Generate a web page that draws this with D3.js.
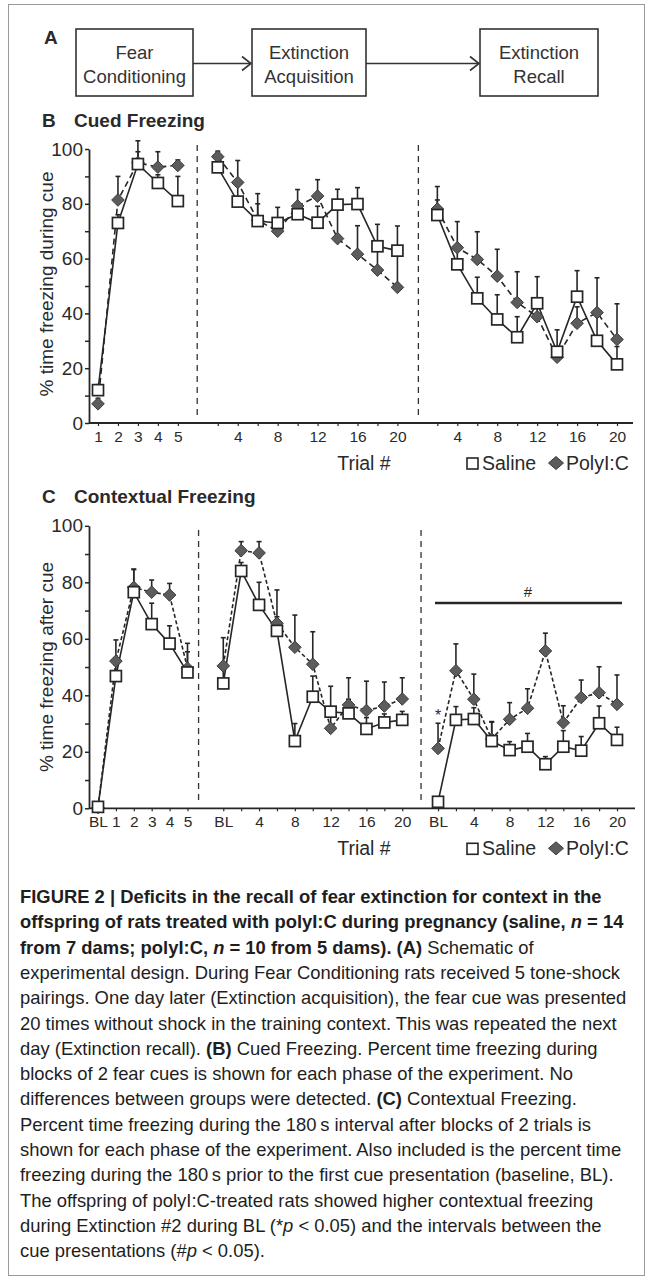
<!DOCTYPE html>
<html><head><meta charset="utf-8">
<script src="https://cdn.jsdelivr.net/npm/d3@7"></script>
<style>
body{margin:0;background:#fff}
svg{display:block}
text{font-family:"Liberation Sans",Arial,Helvetica,sans-serif;fill:#2a2a2a}
</style>
</head><body><div id="chart"></div>
<script>
// ---------------- DATA ----------------
const schemeSteps = ["Fear|Conditioning", "Extinction|Acquisition", "Extinction|Recall"];

// Panel B – Cued freezing (% time freezing during cue)
const bTrials1 = ["1","2","3","4","5"];
const bTrials2 = ["2","4","6","8","10","12","14","16","18","20"];
const bTrials3 = ["2","4","6","8","10","12","14","16","18","20"];
const bLabeled1 = ["1","2","3","4","5"];
const bLabeled23 = ["4","8","12","16","20"];
const bSaline1 = [12, 73, 94.5, 87.6, 81];
const bSaline1Err = [2, 3, 8.5, 3, 9];
const bPoly1 = [7, 81.4, 95, 93.4, 94];
const bPoly1Err = [2, 8.6, 4, 5.6, 2];
const bSaline2 = [93.3, 80.8, 73.7, 73, 76.2, 73.1, 79.7, 79.9, 64.5, 62.9];
const bSaline2Err = [3, 7, 10, 5.7, 3, 6, 5.6, 6, 8, 9];
const bPoly2 = [97.2, 87.8, 74, 70, 79.2, 82.8, 67.3, 61.6, 55.8, 49.5];
const bPoly2Err = [2, 8, 6, 3, 6, 6, 12, 10.4, 8, 13];
const bSaline3 = [75.9, 57.9, 45.5, 37.8, 31.3, 43.7, 26, 46.1, 30, 21.4];
const bSaline3Err = [5.5, 6, 7.7, 9, 7.5, 9.7, 8, 9.5, 10, 6.5];
const bPoly3 = [78.1, 64, 59.7, 53.6, 44, 38.8, 24, 36.4, 40.3, 30.5];
const bPoly3Err = [8.2, 9.5, 10.1, 9.8, 11.2, 5, 2, 6, 12.7, 13];

// Panel C – Contextual freezing (% time freezing after cue)
const cTrials1 = ["BL","1","2","3","4","5"];
const cTrials2 = ["BL","2","4","6","8","10","12","14","16","18","20"];
const cTrials3 = ["BL","2","4","6","8","10","12","14","16","18","20"];
const cLabeled1 = ["BL","1","2","3","4","5"];
const cLabeled23 = ["BL","4","8","12","16","20"];
const cSaline1 = [0.5, 46.8, 76.5, 65.2, 58.3, 48.1];
const cSaline1Err = [0.5, 4, 8, 7.4, 6.3, 7.3];
const cPoly1 = [0.3, 52.1, 78.2, 76.5, 75.5, 49.6];
const cPoly1Err = [0.3, 7.5, 6.5, 4.3, 4.1, 8.8];
const cSaline2 = [44.2, 84, 72, 62.8, 23.8, 39.5, 34.2, 33.6, 28.1, 30.4, 31.3];
const cSaline2Err = [5, 3, 8, 5, 6.2, 7.3, 9, 5, 4, 3, 3];
const cPoly2 = [50.4, 91.2, 90.4, 65.5, 57, 51, 28.3, 36.6, 34.6, 36.2, 38.7];
const cPoly2Err = [10, 3.2, 4, 11.8, 11.4, 11.5, 5, 9.6, 10.4, 8.5, 7.5];
const cSaline3 = [2.3, 31.3, 31.6, 23.8, 20.6, 21.8, 15.6, 21.8, 20.4, 30.1, 24.2];
const cSaline3Err = [0.5, 4.7, 4, 6.9, 3, 4.7, 2.7, 5.7, 5, 6.1, 4.5];
const cPoly3 = [21.2, 48.7, 38.6, 24.5, 31.5, 35.4, 55.7, 30.3, 39.2, 40.9, 36.8];
const cPoly3Err = [8.9, 9.5, 8.9, 6, 5.9, 6.9, 6.3, 6, 6.2, 9.2, 10.4];

const yTicks = [0,10,20,30,40,50,60,70,80,90,100];
const yLabeledTicks = [0,20,40,60,80,100];
const legendNames = ["Saline", "PolyI:C"];

const captionLines = [
  [["b","FIGURE 2 | Deficits in the recall of fear extinction for context in the"]],
  [["b","offspring of rats treated with polyI:C during pregnancy (saline, "],["bi","n"],["b"," = 14"]],
  [["b","from 7 dams; polyI:C, "],["bi","n"],["b"," = 10 from 5 dams). (A)"],["n"," Schematic of"]],
  [["n","experimental design. During Fear Conditioning rats received 5 tone-shock"]],
  [["n","pairings. One day later (Extinction acquisition), the fear cue was presented"]],
  [["n","20 times without shock in the training context. This was repeated the next"]],
  [["n","day (Extinction recall). "],["b","(B)"],["n"," Cued Freezing. Percent time freezing during"]],
  [["n","blocks of 2 fear cues is shown for each phase of the experiment. No"]],
  [["n","differences between groups were detected. "],["b","(C)"],["n"," Contextual Freezing."]],
  [["n","Percent time freezing during the 180\u2009s interval after blocks of 2 trials is"]],
  [["n","shown for each phase of the experiment. Also included is the percent time"]],
  [["n","freezing during the 180\u2009s prior to the first cue presentation (baseline, BL)."]],
  [["n","The offspring of polyI:C-treated rats showed higher contextual freezing"]],
  [["n","during Extinction #2 during BL (*"],["i","p"],["n"," < 0.05) and the intervals between the"]],
  [["n","cue presentations (#"],["i","p"],["n"," < 0.05)."]]
];

// ---------------- DRAW ----------------
const W = 652, H = 1283;
const svg = d3.select("#chart").append("svg").attr("width", W).attr("height", H);
svg.append("rect").attr("width", W).attr("height", H).attr("fill", "#fff");
svg.append("rect").attr("x", 8.5).attr("y", 4.5).attr("width", 636).attr("height", 1271)
  .attr("fill", "none").attr("stroke", "#9a9a9a").attr("stroke-width", 1);

const INK = "#262626";

// Panel A
svg.append("text").attr("x", 44).attr("y", 44).attr("font-size", 19).attr("font-weight", "bold").text("A");
const boxLeft = [76, 252, 480], boxWidth = [117, 114, 118], boxTop = 29, boxH = 67;
schemeSteps.forEach((s, i) => {
  svg.append("rect").attr("x", boxLeft[i]).attr("y", boxTop).attr("width", boxWidth[i]).attr("height", boxH)
    .attr("fill", "#fff").attr("stroke", "#333").attr("stroke-width", 1.6);
  const parts = s.split("|");
  parts.forEach((p, j) => {
    svg.append("text").attr("x", boxLeft[i] + boxWidth[i] / 2).attr("y", boxTop + 30 + j * 24)
      .attr("text-anchor", "middle").attr("font-size", 18.5).style("fill", "#333").text(p);
  });
  if (i < schemeSteps.length - 1) {
    const x0 = boxLeft[i] + boxWidth[i], x1 = boxLeft[i + 1] - 1, yA = boxTop + boxH / 2 + 1;
    svg.append("line").attr("x1", x0).attr("x2", x1).attr("y1", yA).attr("y2", yA).attr("stroke", "#333").attr("stroke-width", 1.6);
    svg.append("path").attr("d", `M${x1 - 9},${yA - 7}L${x1},${yA}L${x1 - 9},${yA + 7}`)
      .attr("fill", "none").attr("stroke", "#333").attr("stroke-width", 1.6);
  }
});

function diamondPath(hw, hh) { return `M0,${-hh}L${hw},0L0,${hh}L${-hw},0Z`; }

function drawPanel(cfg) {
  const g = svg.append("g");
  const x = d3.scaleLinear().domain([0, cfg.nIdx]).range([cfg.x0, cfg.x1]);
  const y = d3.scaleLinear().domain([0, 100]).range([cfg.y0, cfg.y100]);

  g.append("text").attr("x", 42).attr("y", cfg.titleY).attr("font-size", 19).attr("font-weight", "bold").text(cfg.letter);
  g.append("text").attr("x", 74).attr("y", cfg.titleY).attr("font-size", 19).attr("font-weight", "bold").text(cfg.title);

  const ya = g.append("g").attr("transform", `translate(${cfg.axisX},0)`)
    .call(d3.axisLeft(y).tickValues(yTicks).tickSize(4).tickSizeOuter(0).tickPadding(2)
      .tickFormat(d => yLabeledTicks.includes(d) ? d : ""));
  ya.select(".domain").attr("stroke", INK).attr("stroke-width", 1.8);
  ya.selectAll(".tick line").attr("stroke", INK).attr("stroke-width", 1.5);
  ya.selectAll(".tick text").attr("font-size", 19).attr("font-family", "Liberation Sans, Arial, sans-serif").style("fill", "#2a2a2a");

  const allIdx = [];
  const labelOf = {};
  cfg.phases.forEach(ph => ph.trials.forEach((t, k) => {
    const ii = ph.offset + k; allIdx.push(ii); labelOf[ii] = ph.labeled.includes(t) ? t : "";
  }));
  const xa = g.append("g").attr("transform", `translate(0,${cfg.y0})`)
    .call(d3.axisBottom(x).tickValues(allIdx).tickSize(3).tickPadding(5).tickFormat(d => labelOf[d]));
  xa.select(".domain").remove();
  xa.selectAll(".tick line").attr("stroke", INK).attr("stroke-width", 1.2);
  xa.selectAll(".tick text").attr("font-size", 15.5).attr("font-family", "Liberation Sans, Arial, sans-serif").style("fill", "#2a2a2a");
  g.append("line").attr("x1", cfg.axisX).attr("x2", cfg.axisEnd).attr("y1", cfg.y0).attr("y2", cfg.y0)
    .attr("stroke", INK).attr("stroke-width", 1.8);

  cfg.sepIdx.forEach(si => {
    g.append("line").attr("x1", x(si)).attr("x2", x(si)).attr("y1", cfg.sepTop).attr("y2", cfg.y0 - 6)
      .attr("stroke", "#333").attr("stroke-width", 1.3).attr("stroke-dasharray", "6,5");
  });

  const line = d3.line().x(d => x(d.i)).y(d => y(d.v));
  const phData = cfg.phases.map(ph => ({
    sal: ph.sal.map((v, k) => ({ i: ph.offset + k, v, e: ph.salErr[k] })),
    poly: ph.poly.map((v, k) => ({ i: ph.offset + k, v, e: ph.polyErr[k] }))
  }));
  phData.forEach(pd => {
    g.append("path").datum(pd.poly).attr("d", line).attr("fill", "none").attr("stroke", INK)
      .attr("stroke-width", 1.6).attr("stroke-dasharray", cfg.polyDash);
    g.append("path").datum(pd.sal).attr("d", line).attr("fill", "none").attr("stroke", INK).attr("stroke-width", 1.6);
  });
  phData.forEach(pd => {
    [...pd.poly, ...pd.sal].forEach(d => {
      const yt = y(d.v + d.e);
      g.append("line").attr("x1", x(d.i)).attr("x2", x(d.i)).attr("y1", y(d.v)).attr("y2", yt).attr("stroke", INK).attr("stroke-width", 1.6);
      g.append("line").attr("x1", x(d.i) - 2.5).attr("x2", x(d.i) + 2.5).attr("y1", yt).attr("y2", yt).attr("stroke", INK).attr("stroke-width", 1.6);
    });
  });
  phData.forEach(pd => {
    g.selectAll(null).data(pd.poly).join("path").attr("d", diamondPath(6.3, 6.3))
      .attr("transform", d => `translate(${x(d.i)},${y(d.v)})`).attr("fill", "#5c5c5c").attr("stroke", "#3a3a3a").attr("stroke-width", 1);
  });
  phData.forEach(pd => {
    g.selectAll(null).data(pd.sal).join("rect").attr("x", d => x(d.i) - 5.5).attr("y", d => y(d.v) - 5.5)
      .attr("width", 11).attr("height", 11).attr("fill", "#fff").attr("stroke", INK).attr("stroke-width", 1.7);
  });

  g.append("text").attr("transform", `translate(53,${cfg.yLabelY}) rotate(-90)`).attr("text-anchor", "middle")
    .attr("font-size", 19).text(cfg.yLabel);

  const ly = cfg.y0 + 46.5;
  g.append("text").attr("x", 364).attr("y", ly).attr("text-anchor", "middle").attr("font-size", 19.5).text("Trial #");
  g.append("rect").attr("x", 467).attr("y", ly - 11.5).attr("width", 11).attr("height", 11)
    .attr("fill", "#fff").attr("stroke", INK).attr("stroke-width", 1.6);
  g.append("text").attr("x", 482).attr("y", ly).attr("font-size", 19.5).text(legendNames[0]);
  g.append("path").attr("d", diamondPath(7.5, 6.5)).attr("transform", `translate(556,${ly - 6.5})`)
    .attr("fill", "#5c5c5c").attr("stroke", "#3a3a3a");
  g.append("text").attr("x", 566).attr("y", ly).attr("font-size", 19.5).text(legendNames[1]);
  return { g, x, y };
}

drawPanel({
  letter: "B", title: "Cued Freezing", titleY: 127,
  nIdx: 26, x0: 98, x1: 617, y0: 423, y100: 149, axisX: 89, axisEnd: 633,
  sepIdx: [4.97, 16.05], sepTop: 145, polyDash: "6,4",
  yLabel: "% time freezing during cue", yLabelY: 284,
  phases: [
    { offset: 0, trials: bTrials1, labeled: bLabeled1, sal: bSaline1, salErr: bSaline1Err, poly: bPoly1, polyErr: bPoly1Err },
    { offset: 6, trials: bTrials2, labeled: bLabeled23, sal: bSaline2, salErr: bSaline2Err, poly: bPoly2, polyErr: bPoly2Err },
    { offset: 17, trials: bTrials3, labeled: bLabeled23, sal: bSaline3, salErr: bSaline3Err, poly: bPoly3, polyErr: bPoly3Err }
  ]
});

const pc = drawPanel({
  letter: "C", title: "Contextual Freezing", titleY: 503,
  nIdx: 29, x0: 98, x1: 617, y0: 808.3, y100: 525.8, axisX: 89, axisEnd: 635,
  sepIdx: [5.62, 18.05], sepTop: 530, polyDash: "4,2.5",
  yLabel: "% time freezing after cue", yLabelY: 667,
  phases: [
    { offset: 0, trials: cTrials1, labeled: cLabeled1, sal: cSaline1, salErr: cSaline1Err, poly: cPoly1, polyErr: cPoly1Err },
    { offset: 7, trials: cTrials2, labeled: cLabeled23, sal: cSaline2, salErr: cSaline2Err, poly: cPoly2, polyErr: cPoly2Err },
    { offset: 19, trials: cTrials3, labeled: cLabeled23, sal: cSaline3, salErr: cSaline3Err, poly: cPoly3, polyErr: cPoly3Err }
  ]
});
pc.g.append("line").attr("x1", 435).attr("x2", 622).attr("y1", 603).attr("y2", 603).attr("stroke", INK).attr("stroke-width", 2.6);
pc.g.append("text").attr("x", 528).attr("y", 597).attr("text-anchor", "middle").attr("font-size", 15).text("#");
pc.g.append("text").attr("x", pc.x(19)).attr("y", pc.y(cPoly3[0] + cPoly3Err[0]) - 2).attr("text-anchor", "middle").attr("font-size", 16).text("*");

// Caption
const capX = 20, capY0 = 903, capStep = 25.3;
captionLines.forEach((ln, k) => {
  const t = svg.append("text").attr("x", capX).attr("y", capY0 + k * capStep).attr("font-size", 18.4).style("fill", "#1e1e1e");
  ln.forEach(([st, s]) => {
    t.append("tspan").attr("font-weight", st.includes("b") ? "bold" : "normal")
      .attr("font-style", st.includes("i") ? "italic" : "normal").text(s);
  });
});
</script>
</body></html>
